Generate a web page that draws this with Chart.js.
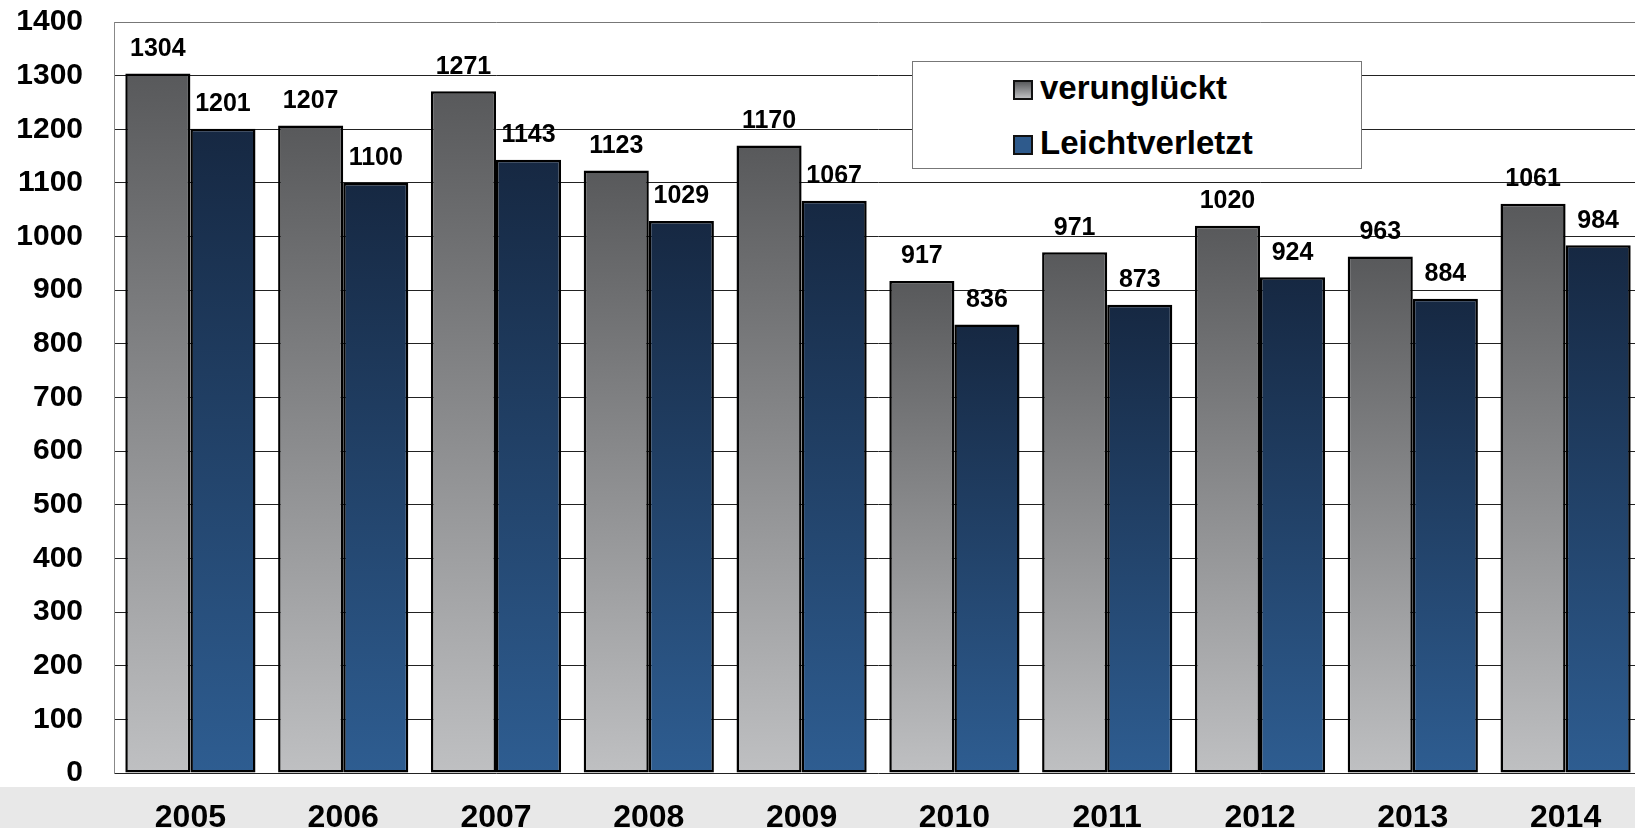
<!DOCTYPE html>
<html>
<head>
<meta charset="utf-8">
<script src="https://cdn.jsdelivr.net/npm/chart.js@4.4.1/dist/chart.umd.min.js"></script>
<style>
  html, body { margin: 0; padding: 0; overflow: hidden; background: #fff; }
  body { width: 1635px; height: 828px; position: relative; font-family: "Liberation Sans", Arial, sans-serif; }
  #band { position: absolute; left: 0; top: 787px; width: 100%; height: 41px; background: #e8e8e8; }
  #wrap { position: absolute; left: 0; top: 0; width: 1660px; height: 828px; }
  #legend {
    position: absolute; left: 912px; top: 61px; width: 450px; height: 108px;
    background: #fff; border: 1px solid #777; box-sizing: border-box;
    font-weight: bold; font-size: 33px; color: #000;
  }
  .row { position: absolute; left: 100px; height: 36px; line-height: 36px; white-space: nowrap; }
  .sw { display: inline-block; width: 20px; height: 20px; border: 2px solid #111; margin-right: 7px; vertical-align: -1px; box-sizing: border-box; }
</style>
</head>
<body>
<div id="band"></div>
<div id="wrap"><canvas id="chart"></canvas></div>
<div id="legend">
  <div class="row" style="top:8px"><span class="sw" style="background:linear-gradient(#5a5b5d,#bdbec0)"></span>verunglückt</div>
  <div class="row" style="top:63px"><span class="sw" style="background:#2e5a8c"></span>Leichtverletzt</div>
</div>
<script>
const years = ['2005', '2006', '2007', '2008', '2009', '2010', '2011', '2012', '2013', '2014'];
const verunglueckt = [1304, 1207, 1271, 1123, 1170, 917, 971, 1020, 963, 1061];
const leichtverletzt = [1201, 1100, 1143, 1029, 1067, 836, 873, 924, 884, 984];
const yTicks = [0, 100, 200, 300, 400, 500, 600, 700, 800, 900, 1000, 1100, 1200, 1300, 1400];

const FONT = '"Liberation Sans", Arial, sans-serif';

function barGradient(top, bottom) {
    return (ctx) => {
        const chart = ctx.chart;
        if (!chart.chartArea || ctx.type !== 'data') return bottom;
        const y = chart.scales.y;
        const g = chart.ctx.createLinearGradient(0, y.getPixelForValue(ctx.raw), 0, y.getPixelForValue(0));
        g.addColorStop(0, top);
        g.addColorStop(1, bottom);
        return g;
    };
}

const valueLabels = {
    id: 'valueLabels',
    afterDatasetsDraw(chart) {
        const c = chart.ctx;
        c.save();
        c.font = 'bold 25px ' + FONT;
        c.fillStyle = '#000';
        c.textAlign = 'center';
        c.textBaseline = 'bottom';
        chart.data.datasets.forEach((ds, i) => {
            chart.getDatasetMeta(i).data.forEach((bar, j) => {
                c.fillText(String(ds.data[j]), bar.x, bar.y - 12);
            });
        });
        c.restore();
    }
};

new Chart(document.getElementById('chart'), {
    type: 'bar',
    data: {
        labels: years,
        datasets: [{
            label: 'verunglückt',
            data: verunglueckt,
            backgroundColor: barGradient('#58595b', '#bfc0c2'),
            borderColor: '#000',
            borderWidth: 2.5,
            borderSkipped: false
        }, {
            label: 'Leichtverletzt',
            data: leichtverletzt,
            backgroundColor: barGradient('#162842', '#2e5d91'),
            borderColor: '#000',
            borderWidth: 2.5,
            borderSkipped: false
        }]
    },
    options: {
        responsive: true,
        maintainAspectRatio: false,
        animation: false,
        layout: { padding: { top: 22, right: 18, left: 0, bottom: 0 } },
        datasets: { bar: { categoryPercentage: 0.852, barPercentage: 1.0 } },
        plugins: { legend: { display: false }, tooltip: { enabled: false } },
        scales: {
            x: {
                grid: { display: false },
                border: { display: false },
                ticks: { color: '#000', font: { family: FONT, size: 32, weight: 'bold' }, padding: 18 },
                afterFit: (s) => { s.height = 55; s.paddingLeft = 0; s.paddingRight = 0; }
            },
            y: {
                min: 0,
                max: 1400,
                afterBuildTicks: (s) => { s.ticks = yTicks.map(v => ({ value: v })); },
                grid: {
                    drawTicks: false,
                    color: (ctx) => (ctx.tick && ctx.tick.value === 1400) ? '#777' : '#222',
                    lineWidth: 1
                },
                border: { display: true, color: '#888', width: 1 },
                ticks: {
                    color: '#000',
                    font: { family: FONT, size: 30, weight: 'bold' },
                    padding: 31,
                    callback: (v) => String(v)
                },
                afterFit: (s) => { s.width = 114; s.paddingTop = 0; s.paddingBottom = 0; }
            }
        }
    },
    plugins: [valueLabels]
});
</script>
</body>
</html>
